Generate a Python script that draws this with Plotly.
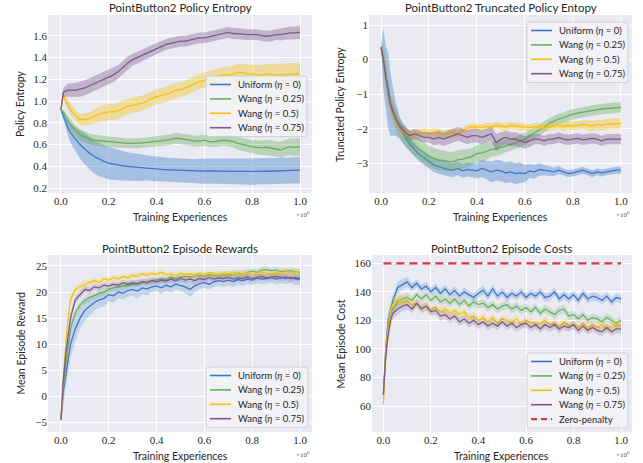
import plotly.graph_objects as go

# ---------------- data ----------------
X_STEPS = [0.0, 0.01, 0.02, 0.03, 0.04, 0.06, 0.08, 0.10, 0.12, 0.14, 0.16, 0.18, 0.20, 0.22, 0.24,
           0.26, 0.28, 0.30, 0.32, 0.34, 0.36, 0.38, 0.40, 0.42, 0.44, 0.46, 0.48, 0.50, 0.52, 0.54,
           0.56, 0.58, 0.60, 0.62, 0.64, 0.66, 0.68, 0.70, 0.72, 0.74, 0.76, 0.78, 0.80, 0.82, 0.84,
           0.86, 0.88, 0.90, 0.92, 0.94, 0.96, 0.98, 1.00]

SERIES_NAMES = ["Uniform (<i>η</i> = 0)", "Wang (<i>η</i> = 0.25)", "Wang (<i>η</i> = 0.5)", "Wang (<i>η</i> = 0.75)"]
ZERO_PENALTY_NAME = "Zero-penalty"
ZERO_PENALTY = 160

# Panel 1: Policy entropy
ent_uniform = [0.92, 0.86, 0.80, 0.75, 0.71, 0.65, 0.60, 0.56, 0.52, 0.49, 0.465, 0.445, 0.43, 0.42, 0.41,
               0.405, 0.40, 0.395, 0.39, 0.388, 0.385, 0.38, 0.375, 0.372, 0.37, 0.368, 0.365, 0.362, 0.36,
               0.358, 0.356, 0.355, 0.356, 0.358, 0.356, 0.355, 0.356, 0.355, 0.354, 0.353, 0.352, 0.352,
               0.35, 0.352, 0.354, 0.355, 0.356, 0.357, 0.358, 0.36, 0.362, 0.364, 0.365]
ent_uniform_sd = [0.01, 0.03, 0.05, 0.07, 0.09, 0.11, 0.13, 0.14, 0.15, 0.155, 0.155, 0.15, 0.15, 0.145, 0.14,
                  0.135, 0.13, 0.13, 0.125, 0.12, 0.115, 0.115, 0.11, 0.11, 0.11, 0.11, 0.11, 0.11, 0.11,
                  0.11, 0.11, 0.115, 0.115, 0.115, 0.115, 0.115, 0.12, 0.12, 0.12, 0.12, 0.12, 0.12, 0.12,
                  0.12, 0.12, 0.12, 0.12, 0.12, 0.12, 0.12, 0.12, 0.12, 0.12]
ent_w025 = [0.92, 0.90, 0.86, 0.82, 0.78, 0.73, 0.69, 0.67, 0.65, 0.64, 0.635, 0.63, 0.625, 0.62, 0.615,
            0.615, 0.61, 0.61, 0.61, 0.615, 0.62, 0.625, 0.63, 0.635, 0.64, 0.645, 0.66, 0.655, 0.645, 0.64,
            0.63, 0.635, 0.64, 0.63, 0.625, 0.635, 0.64, 0.635, 0.63, 0.61, 0.60, 0.585, 0.58, 0.575, 0.57,
            0.575, 0.565, 0.56, 0.55, 0.57, 0.58, 0.575, 0.58]
ent_w025_sd = [0.005, 0.02, 0.03, 0.04, 0.05, 0.05, 0.05, 0.05, 0.05, 0.05, 0.05, 0.045, 0.045, 0.045, 0.045,
               0.045, 0.045, 0.045, 0.045, 0.045, 0.045, 0.045, 0.045, 0.05, 0.05, 0.05, 0.05, 0.05, 0.05,
               0.05, 0.05, 0.05, 0.05, 0.05, 0.05, 0.05, 0.05, 0.05, 0.055, 0.06, 0.06, 0.06, 0.06, 0.065,
               0.065, 0.07, 0.07, 0.07, 0.075, 0.075, 0.08, 0.08, 0.08]
ent_w05 = [0.92, 1.05, 1.00, 0.96, 0.92, 0.87, 0.83, 0.83, 0.84, 0.86, 0.88, 0.89, 0.90, 0.90, 0.91,
           0.93, 0.95, 0.96, 0.97, 0.98, 1.00, 1.02, 1.04, 1.05, 1.06, 1.08, 1.10, 1.10, 1.12, 1.14,
           1.16, 1.18, 1.19, 1.21, 1.22, 1.23, 1.24, 1.24, 1.25, 1.26, 1.26, 1.25, 1.25, 1.24, 1.24,
           1.25, 1.245, 1.24, 1.24, 1.245, 1.25, 1.25, 1.25]
ent_w05_sd = [0.01, 0.03, 0.04, 0.05, 0.05, 0.05, 0.05, 0.055, 0.06, 0.065, 0.07, 0.075, 0.075, 0.075, 0.075,
              0.075, 0.07, 0.07, 0.07, 0.07, 0.07, 0.07, 0.07, 0.07, 0.07, 0.07, 0.07, 0.07, 0.07, 0.07,
              0.07, 0.07, 0.07, 0.07, 0.07, 0.07, 0.075, 0.075, 0.08, 0.08, 0.08, 0.085, 0.085, 0.09, 0.09,
              0.09, 0.095, 0.10, 0.10, 0.10, 0.10, 0.10, 0.10]
ent_w075 = [0.92, 1.08, 1.09, 1.10, 1.10, 1.10, 1.11, 1.12, 1.14, 1.16, 1.18, 1.20, 1.22, 1.24, 1.27,
            1.31, 1.35, 1.38, 1.40, 1.42, 1.44, 1.46, 1.48, 1.50, 1.52, 1.53, 1.54, 1.55, 1.55, 1.56,
            1.57, 1.58, 1.58, 1.59, 1.60, 1.61, 1.62, 1.63, 1.62, 1.62, 1.615, 1.61, 1.61, 1.61, 1.60,
            1.595, 1.60, 1.61, 1.61, 1.62, 1.625, 1.625, 1.63]
ent_w075_sd = [0.01, 0.04, 0.05, 0.06, 0.06, 0.065, 0.07, 0.07, 0.07, 0.07, 0.07, 0.07, 0.065, 0.065, 0.06,
               0.06, 0.06, 0.055, 0.055, 0.055, 0.055, 0.055, 0.055, 0.055, 0.05, 0.05, 0.05, 0.05, 0.05,
               0.05, 0.05, 0.05, 0.05, 0.05, 0.05, 0.05, 0.05, 0.05, 0.05, 0.05, 0.05, 0.05, 0.05, 0.05,
               0.05, 0.05, 0.05, 0.05, 0.055, 0.055, 0.06, 0.06, 0.06]

# Panel 2: Truncated policy entropy
tr_uniform = [0.35, 0.0, -0.5, -0.9, -1.3, -1.7, -2.0, -2.25, -2.45, -2.6, -2.75, -2.85, -2.95, -3.05, -3.1,
              -3.15, -3.18, -3.2, -3.15, -3.22, -3.18, -3.2, -3.22, -3.15, -3.2, -3.25, -3.2, -3.22, -3.28,
              -3.25, -3.3, -3.28, -3.3, -3.22, -3.25, -3.18, -3.2, -3.22, -3.25, -3.2, -3.25, -3.3, -3.28,
              -3.25, -3.2, -3.25, -3.3, -3.25, -3.28, -3.25, -3.22, -3.2, -3.2]
tr_uniform_sd = [0.05, 0.9, 0.9, 1.1, 0.9, 0.5, 0.3, 0.25, 0.2, 0.2, 0.2, 0.2, 0.2, 0.2, 0.2,
                 0.2, 0.2, 0.2, 0.2, 0.2, 0.2, 0.2, 0.22, 0.25, 0.28, 0.3, 0.3, 0.3, 0.3, 0.3,
                 0.3, 0.3, 0.25, 0.2, 0.2, 0.18, 0.15, 0.15, 0.12, 0.12, 0.1, 0.1, 0.1, 0.1, 0.1,
                 0.1, 0.1, 0.1, 0.1, 0.1, 0.1, 0.1, 0.1]
tr_w025 = [0.35, 0.0, -0.5, -0.9, -1.3, -1.7, -2.0, -2.2, -2.35, -2.5, -2.6, -2.7, -2.8, -2.85, -2.9,
           -2.92, -2.95, -2.95, -2.9, -2.88, -2.85, -2.8, -2.72, -2.7, -2.65, -2.6, -2.58, -2.55, -2.5,
           -2.45, -2.42, -2.35, -2.3, -2.2, -2.12, -2.05, -1.95, -1.85, -1.78, -1.72, -1.68, -1.62, -1.58,
           -1.55, -1.52, -1.5, -1.47, -1.45, -1.43, -1.42, -1.4, -1.4, -1.38]
tr_w025_sd = [0.05, 0.4, 0.5, 0.4, 0.3, 0.3, 0.3, 0.3, 0.3, 0.3, 0.3, 0.3, 0.3, 0.3, 0.3,
              0.3, 0.28, 0.28, 0.28, 0.28, 0.26, 0.25, 0.25, 0.25, 0.25, 0.22, 0.2, 0.2, 0.18, 0.18,
              0.18, 0.18, 0.18, 0.16, 0.16, 0.16, 0.16, 0.15, 0.15, 0.15, 0.15, 0.15, 0.15, 0.15, 0.15,
              0.15, 0.15, 0.15, 0.15, 0.15, 0.15, 0.15, 0.15]
tr_w05 = [0.35, 0.0, -0.5, -0.95, -1.35, -1.75, -2.0, -2.15, -2.2, -2.12, -2.15, -2.1, -2.15, -2.1, -2.12,
          -2.18, -2.15, -2.1, -2.15, -2.05, -1.98, -1.95, -1.95, -1.97, -1.93, -1.95, -1.9, -1.92, -1.95,
          -1.9, -1.92, -1.95, -1.95, -1.97, -1.93, -1.95, -1.97, -1.95, -1.92, -1.9, -1.93, -1.9, -1.92,
          -1.9, -1.88, -1.9, -1.92, -1.88, -1.9, -1.87, -1.85, -1.85, -1.85]
tr_w05_sd = [0.05, 0.2, 0.2, 0.2, 0.15, 0.15, 0.12, 0.12, 0.12, 0.12, 0.12, 0.12, 0.12, 0.12, 0.12,
             0.12, 0.12, 0.12, 0.12, 0.1, 0.1, 0.1, 0.1, 0.1, 0.1, 0.1, 0.1, 0.1, 0.1, 0.1,
             0.1, 0.1, 0.1, 0.1, 0.1, 0.1, 0.1, 0.1, 0.1, 0.1, 0.12, 0.12, 0.12, 0.12, 0.12,
             0.15, 0.15, 0.15, 0.15, 0.15, 0.15, 0.15, 0.15]
tr_w075 = [0.35, 0.0, -0.5, -0.9, -1.3, -1.7, -1.95, -2.1, -2.2, -2.15, -2.2, -2.25, -2.25, -2.3, -2.25,
           -2.3, -2.25, -2.2, -2.15, -2.2, -2.25, -2.2, -2.2, -2.25, -2.2, -2.15, -2.4, -2.3, -2.25,
           -2.3, -2.3, -2.35, -2.4, -2.35, -2.3, -2.3, -2.35, -2.3, -2.3, -2.25, -2.3, -2.32, -2.3,
           -2.28, -2.32, -2.3, -2.28, -2.3, -2.35, -2.3, -2.3, -2.28, -2.3]
tr_w075_sd = [0.05, 0.2, 0.2, 0.2, 0.15, 0.12, 0.12, 0.15, 0.15, 0.15, 0.15, 0.15, 0.15, 0.18, 0.2,
              0.2, 0.2, 0.2, 0.2, 0.2, 0.2, 0.2, 0.2, 0.2, 0.2, 0.2, 0.25, 0.2, 0.2, 0.2,
              0.2, 0.2, 0.18, 0.18, 0.15, 0.15, 0.15, 0.15, 0.15, 0.15, 0.15, 0.15, 0.15, 0.15, 0.15,
              0.15, 0.15, 0.15, 0.15, 0.15, 0.15, 0.15, 0.15]

# Panel 3: Episode rewards
rw_uniform = [-4.5, 1, 4, 7.5, 10, 13, 15, 16.5, 17.3, 18, 18.5, 18.8, 19.5, 19.3, 20,
              19.8, 20.3, 20.5, 20.2, 20.8, 20.6, 21, 21.2, 20.8, 21.3, 21, 21.5, 21.3, 21,
              20.5, 21.2, 21.6, 21.8, 21.5, 22, 22.2, 22, 22.3, 22, 22.4, 22.2, 22.5, 22.3,
              22.7, 22.5, 22.6, 22.8, 22.5, 22.9, 22.6, 22.8, 22.5, 22.5]
rw_uniform_sd = [0.3, 2.5, 3, 3, 2.5, 2.5, 2, 2, 1.8, 1.6, 1.5, 1.5, 1.3, 1.3, 1.2,
                 1.2, 1.2, 1.2, 1.5, 1.2, 1.2, 1, 1, 1.2, 1, 1.2, 1, 1, 1.2,
                 1.5, 1.2, 1, 1, 1, 1, 1, 1, 1, 1, 1, 1, 1, 1,
                 1, 1, 1, 1, 1, 1.2, 1, 1, 1.2, 1]
rw_w025 = [-4.5, 2, 6, 10, 13, 16, 17.5, 18.5, 19, 19.3, 19.8, 20, 20.5, 20.8, 21,
           21.2, 21.3, 21.5, 21.6, 21.9, 22, 22.2, 22.3, 22.5, 22.4, 22.8, 22.6, 22.8, 23,
           22.9, 23.1, 23.2, 23, 23.3, 23.2, 23.4, 23.3, 23.4, 23.3, 23.6, 23.5, 23.8, 24,
           23.8, 24.2, 24.3, 24.1, 24.2, 23.9, 24, 24.1, 23.9, 23.8]
rw_w025_sd = [0.3, 1.5, 1.5, 1.2, 1.0, 0.9, 0.8, 0.8, 0.8, 0.8, 0.8, 0.8, 0.7, 0.7, 0.7,
              0.7, 0.7, 0.7, 0.7, 0.6, 0.6, 0.6, 0.6, 0.6, 0.6, 0.6, 0.6, 0.6, 0.6,
              0.6, 0.6, 0.6, 0.6, 0.6, 0.6, 0.6, 0.6, 0.6, 0.6, 0.6, 0.6, 0.6, 0.6,
              0.6, 0.6, 0.6, 0.6, 0.6, 0.6, 0.6, 0.6, 0.6, 0.6]
rw_w05 = [-4.5, 4, 10, 15, 18.5, 20.5, 21, 21.5, 21.8, 22.2, 21.8, 22.5, 22.3, 22.8, 22.5,
          23, 22.7, 23.2, 23, 23.5, 23.2, 23.6, 23.4, 23.8, 23.3, 23.5, 23.2, 23.6, 23.4,
          23.5, 23.3, 23.6, 23.4, 23.7, 23.5, 23.3, 23.6, 23.4, 23.8, 23.5, 23.4, 23.7, 23.5,
          23.3, 23.8, 23.6, 23.4, 23.7, 23.5, 23.9, 23.6, 23.8, 23.8]
rw_w05_sd = [0.3, 1.5, 1.5, 1.2, 1.0, 0.8, 0.7, 0.7, 0.6, 0.6, 0.6, 0.6, 0.6, 0.6, 0.6,
             0.6, 0.6, 0.6, 0.6, 0.6, 0.6, 0.6, 0.6, 0.6, 0.6, 0.6, 0.6, 0.6, 0.6,
             0.6, 0.6, 0.6, 0.6, 0.6, 0.6, 0.6, 0.6, 0.6, 0.6, 0.6, 0.6, 0.6, 0.6,
             0.6, 0.6, 0.6, 0.6, 0.6, 0.6, 0.6, 0.6, 0.6, 0.6]
rw_w075 = [-4.5, 3, 8, 12, 15, 18.5, 19.5, 20.5, 20.3, 21, 20.8, 21.3, 21.2, 21.5, 21.3,
           21.8, 21.5, 21.8, 21.6, 22, 21.8, 22.2, 22, 22.3, 22.1, 22.5, 22.2, 22.6, 22.3,
           22.5, 22.2, 22.6, 22.4, 22.8, 22.5, 22.7, 22.6, 22.8, 22.5, 22.7, 22.6, 22.9, 22.6,
           22.8, 23, 22.7, 22.9, 23, 22.7, 22.9, 22.6, 22.8, 22.6]
rw_w075_sd = rw_w05_sd

# Panel 4: Episode costs
cs_uniform = [68, 100, 120, 128, 134, 143, 145, 147, 143, 146, 142, 144, 140, 143, 139,
              142, 138, 141, 137, 140, 138, 136, 139, 141, 137, 142, 137, 140, 136, 139,
              137, 140, 136, 139, 137, 140, 136, 137, 140, 135, 138, 135, 138, 134, 139,
              135, 137, 136, 134, 137, 133, 136, 135]
cs_w025 = [68, 98, 118, 125, 128, 133, 135, 136, 134, 138, 135, 138, 134, 137, 133,
           135, 132, 135, 131, 134, 130, 133, 131, 132, 129, 131, 128, 130, 131, 128,
           130, 127, 129, 126, 129, 125, 128, 126, 124, 127, 128, 123, 124, 121, 124,
           120, 122, 121, 119, 122, 120, 118, 120]
cs_w05 = [61, 100, 115, 126, 131, 135, 133, 134, 131, 132, 129, 130, 127, 129, 126,
          128, 125, 127, 124, 126, 122, 123, 120, 122, 119, 122, 118, 121, 120, 118,
          121, 117, 120, 119, 117, 118, 120, 117, 118, 115, 119, 116, 117, 115, 118,
          114, 117, 115, 117, 114, 116, 117, 116]
cs_w075 = [68, 95, 110, 120, 125, 128, 130, 131, 128, 132, 128, 130, 126, 127, 123,
           124, 121, 123, 119, 121, 118, 120, 117, 119, 116, 118, 116, 119, 116, 118,
           115, 117, 118, 115, 117, 114, 117, 115, 117, 114, 116, 115, 117, 113, 116,
           113, 115, 113, 112, 115, 112, 114, 114]
cs_sd = [3, 6, 6, 5, 4, 4, 3.5, 3.5, 3, 3, 3, 3, 3, 3, 3,
         3, 3, 3, 3, 3, 3, 3, 3, 3, 3, 3, 3, 3, 3, 3,
         3, 3, 3, 3, 3, 3, 3, 3, 3, 3, 3, 3, 3, 3, 3,
         3, 3, 3, 3, 3, 3, 3, 3]

X_TICKS = [0.0, 0.2, 0.4, 0.6, 0.8, 1.0]
P1_YTICKS = [0.2, 0.4, 0.6, 0.8, 1.0, 1.2, 1.4, 1.6]
P2_YTICKS = [-3, -2, -1, 0, 1]
P3_YTICKS = [-5, 0, 5, 10, 15, 20, 25]
P4_YTICKS = [60, 80, 100, 120, 140, 160]

TITLES = ["PointButton2 Policy Entropy", "PointButton2 Truncated Policy Entopy",
          "PointButton2 Episode Rewards", "PointButton2 Episode Costs"]
YLABELS = ["Policy Entropy", "Truncated Policy Entropy", "Mean Episode Reward", "Mean Episode Cost"]
XLABEL = "Training Experiences"

# ---------------- style ----------------
COLORS = ["#3a78c8", "#6aae5e", "#f4c20d", "#7d5a8a"]
RGB = ["58,120,200", "106,174,94", "244,194,13", "125,90,138"]
BAND_ALPHA = [0.38, 0.38, 0.22, 0.22]
RED = "#d8383f"
BG = "#eaeaf2"
SANS = "Lato, 'Open Sans', sans-serif"
SERIF = "'Liberation Serif', 'DejaVu Serif', serif"
TXT = "#262626"

W, H = 643, 463
def px(v):
    return v / W
def py(v):
    return 1 - v / H

# plot areas in pixels (left, right, top, bottom)
AREAS = [(48, 312, 15, 193), (369, 632, 15, 193), (48, 312, 255, 432), (372, 632, 255, 432)]
YRANGES = [[0.155, 1.79], [-3.86, 1.29], [-6.8, 27.1], [41.8, 165.8]]
XRANGES = [[-0.054, 1.05], [-0.05, 1.046], [-0.054, 1.05], [-0.048, 1.046]]
YTICKS = [P1_YTICKS, P2_YTICKS, P3_YTICKS, P4_YTICKS]
YTEXT = [[f"{v:.1f}" for v in P1_YTICKS],
         [str(v).replace("-", "\u2212") for v in P2_YTICKS],
         [str(v).replace("-", "\u2212") for v in P3_YTICKS],
         [str(v) for v in P4_YTICKS]]
YLABEL_X = [20, 340, 20, 340]
# legend boxes: left, top, width
LEGEND_BOX = [(206, 76, 101), (527, 22, 101), (206, 367, 102), (527, 353, 101)]
ROW_H = 14.4

PANELS = [
    [(ent_uniform, ent_uniform_sd), (ent_w025, ent_w025_sd), (ent_w05, ent_w05_sd), (ent_w075, ent_w075_sd)],
    [(tr_uniform, tr_uniform_sd), (tr_w025, tr_w025_sd), (tr_w05, tr_w05_sd), (tr_w075, tr_w075_sd)],
    [(rw_uniform, rw_uniform_sd), (rw_w025, rw_w025_sd), (rw_w05, rw_w05_sd), (rw_w075, rw_w075_sd)],
    [(cs_uniform, cs_sd), (cs_w025, cs_sd), (cs_w05, cs_sd), (cs_w075, cs_sd)],
]

fig = go.Figure()
layout = dict(width=W, height=H, margin=dict(l=0, r=0, t=0, b=0),
              paper_bgcolor="white", plot_bgcolor=BG, showlegend=False,
              annotations=[], shapes=[])

for p, series in enumerate(PANELS):
    n = p + 1
    xa = "x" if n == 1 else f"x{n}"
    ya = "y" if n == 1 else f"y{n}"
    for s, (mean, sd) in enumerate(series):
        lo = [m - d for m, d in zip(mean, sd)]
        hi = [m + d for m, d in zip(mean, sd)]
        fill = f"rgba({RGB[s]},{BAND_ALPHA[p]})"
        fig.add_trace(go.Scatter(x=X_STEPS, y=lo, xaxis=xa, yaxis=ya, mode="lines",
                                 line=dict(width=0, color=fill), showlegend=False, hoverinfo="skip"))
        fig.add_trace(go.Scatter(x=X_STEPS, y=hi, xaxis=xa, yaxis=ya, mode="lines", fill="tonexty",
                                 fillcolor=fill, line=dict(width=0, color=fill),
                                 showlegend=False, hoverinfo="skip"))
        fig.add_trace(go.Scatter(x=X_STEPS, y=mean, xaxis=xa, yaxis=ya, mode="lines",
                                 line=dict(width=1.3, color=COLORS[s]), name=SERIES_NAMES[s]))
    entries = [(SERIES_NAMES[s], COLORS[s], "solid", 1.6) for s in range(4)]
    if n == 4:
        fig.add_trace(go.Scatter(x=[X_STEPS[0], X_STEPS[-1]], y=[ZERO_PENALTY, ZERO_PENALTY],
                                 xaxis=xa, yaxis=ya, mode="lines", name=ZERO_PENALTY_NAME,
                                 line=dict(width=2.2, color=RED, dash="8px,5px")))
        entries.append((ZERO_PENALTY_NAME, RED, "6px,4px", 2.2))

    l, r, t, b = AREAS[p]
    axkey = "xaxis" if n == 1 else f"xaxis{n}"
    aykey = "yaxis" if n == 1 else f"yaxis{n}"
    layout[axkey] = dict(domain=[px(l), px(r)], anchor=ya, range=XRANGES[p], automargin=False,
                         tickvals=X_TICKS, ticktext=[f"{v:.1f}" for v in X_TICKS],
                         showgrid=True, gridcolor="white", gridwidth=1, zeroline=False,
                         showline=False, ticks="", tickfont=dict(family=SERIF, size=11, color=TXT))
    layout[aykey] = dict(domain=[py(b), py(t)], anchor=xa, range=YRANGES[p], automargin=False,
                         tickvals=YTICKS[p], ticktext=YTEXT[p],
                         showgrid=True, gridcolor="white", gridwidth=1, zeroline=False,
                         showline=False, ticks="", tickfont=dict(family=SERIF, size=11, color=TXT))
    # titles and axis labels
    layout["annotations"].append(dict(text=TITLES[p], x=px((l + r) / 2), y=py(t - 7), xref="paper",
                                      yref="paper", showarrow=False, xanchor="center", yanchor="middle",
                                      font=dict(family=SANS, size=11.5, color=TXT)))
    layout["annotations"].append(dict(text=XLABEL, x=px((l + r) / 2), y=py(b + 24), xref="paper",
                                      yref="paper", showarrow=False, xanchor="center", yanchor="middle",
                                      font=dict(family=SANS, size=10.5, color=TXT)))
    layout["annotations"].append(dict(text=YLABELS[p], x=px(YLABEL_X[p]), y=py((t + b) / 2), xref="paper",
                                      yref="paper", showarrow=False, xanchor="center", yanchor="middle",
                                      textangle=-90, font=dict(family=SANS, size=10.5, color=TXT)))
    layout["annotations"].append(dict(text="×10<sup>6</sup>", x=px(r), y=py(b + 22), xref="paper",
                                      yref="paper", showarrow=False, xanchor="right", yanchor="middle",
                                      font=dict(family=SERIF, size=7, color="#555")))
    # legend box drawn by hand
    bl, bt, bw = LEGEND_BOX[p]
    bh = len(entries) * ROW_H + 3
    rad = 3
    path = (f"M {px(bl + rad)},{py(bt)} L {px(bl + bw - rad)},{py(bt)} Q {px(bl + bw)},{py(bt)} {px(bl + bw)},{py(bt + rad)} "
            f"L {px(bl + bw)},{py(bt + bh - rad)} Q {px(bl + bw)},{py(bt + bh)} {px(bl + bw - rad)},{py(bt + bh)} "
            f"L {px(bl + rad)},{py(bt + bh)} Q {px(bl)},{py(bt + bh)} {px(bl)},{py(bt + bh - rad)} "
            f"L {px(bl)},{py(bt + rad)} Q {px(bl)},{py(bt)} {px(bl + rad)},{py(bt)} Z")
    layout["shapes"].append(dict(type="path", path=path, xref="paper", yref="paper",
                                 fillcolor="rgba(242,242,247,0.85)", line=dict(color="#cfcfd6", width=1),
                                 layer="above"))
    for i, (name, col, dash, lw) in enumerate(entries):
        yc = bt + 8.5 + i * ROW_H
        layout["shapes"].append(dict(type="line", xref="paper", yref="paper",
                                     x0=px(bl + 4), x1=px(bl + 25), y0=py(yc), y1=py(yc),
                                     line=dict(color=col, width=lw, dash=dash), layer="above"))
        layout["annotations"].append(dict(text=name, x=px(bl + 30), y=py(yc), xref="paper", yref="paper",
                                          showarrow=False, xanchor="left", yanchor="middle",
                                          font=dict(family=SANS, size=9.5, color=TXT)))

fig.update_layout(**layout)
fig.write_html("out.html", config={"displayModeBar": False},
               post_script="document.body.style.margin='0';document.body.style.padding='0';")
